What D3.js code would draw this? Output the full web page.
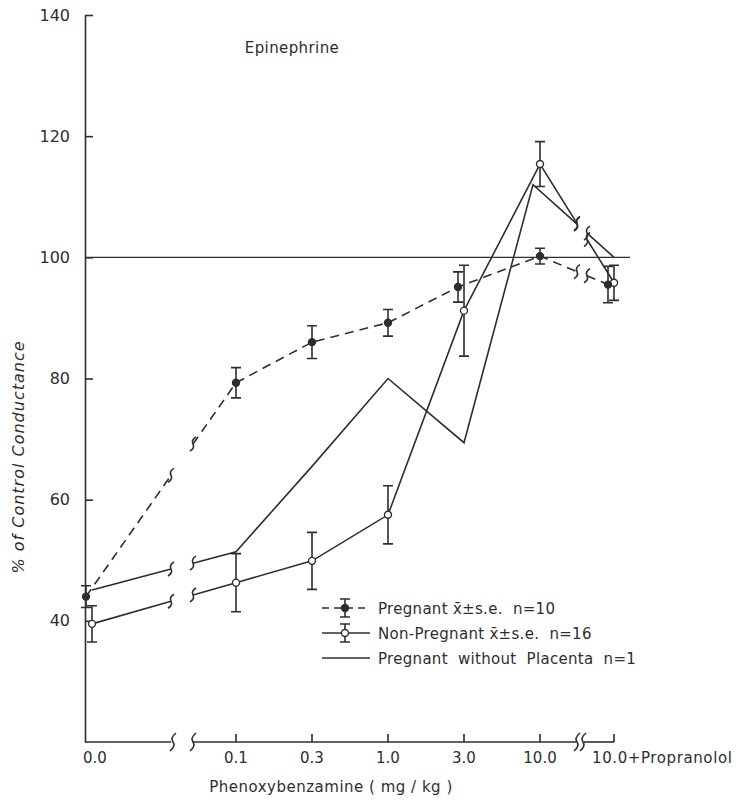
<!DOCTYPE html>
<html>
<head>
<meta charset="utf-8">
<script src="https://cdn.jsdelivr.net/npm/d3@7"></script>
<style>
body { margin: 0; background: #fff; }
text { font-family: "DejaVu Sans", sans-serif; fill: #2e2e2e; }
</style>
</head>
<body>
<svg id="chart" width="755" height="800"></svg>
<script>
// dose groups on the x axis
var doses = ["0.0", "0.1", "0.3", "1.0", "3.0", "10.0", "10.0+Propranolol"];
var yTicks = [40, 60, 80, 100, 120, 140];

// Pregnant mean ± s.e. (n=10)
var pregMean = [44, 79.3, 86, 89.2, 95.1, 100.2, 95.5];
var pregSe   = [1.8, 2.5, 2.7, 2.2, 2.5, 1.3, 3.0];
// Non-pregnant mean ± s.e. (n=16)
var nonMean = [39.5, 46.3, 49.9, 57.5, 91.2, 115.4, 95.8];
var nonSe   = [3.0, 4.8, 4.7, 4.8, 7.5, 3.7, 2.9];
// Pregnant without placenta (n=1)
var placenta = [45.1, 51.4, 65.5, 80, 69.4, 112, 100];

var legendLabels = ["Pregnant x\u0304\u00b1s.e.  n=10", "Non-Pregnant x\u0304\u00b1s.e.  n=16", "Pregnant  without  Placenta  n=1"];

var ink = "#2e2e2e";
var svg = d3.select("#chart");

var y = d3.scaleLinear().domain([20, 140]).range([742, 15]);
// broken axis: a long gap after 0.0, then even spacing, then a short gap before propranolol
var x = d3.scaleLinear().domain([0, 1, 5, 6]).range([85, 236, 540, 614]);

// small sideways nudges so overlapping points stay visible
var dodge = {
  preg: [1, 0, 0, 0, -6, 0, -6],
  non:  [7, 0, 0, 0, 0, 0, 0],
  plac: [7, 0, 0, 0, 0, -7, 0]
};
var gapA = [171, 193], gapB = [577, 587];

var squiggle = "M3,-7 Q-2,-4 0,0 Q2,4 -3,7";

function pointAt(p, q, px) {
  var t = (px - p[0]) / (q[0] - p[0]);
  return [px, p[1] + t * (q[1] - p[1])];
}

var line = d3.line();

function drawSeries(values, off, dash) {
  var pts = values.map(function(v, i) { return [x(i) + off[i], y(v)]; });
  var a1 = pointAt(pts[0], pts[1], gapA[0]), a2 = pointAt(pts[0], pts[1], gapA[1]);
  var b1 = pointAt(pts[5], pts[6], gapB[0]), b2 = pointAt(pts[5], pts[6], gapB[1]);
  var segs = [[pts[0], a1], [a2].concat(pts.slice(1, 6)).concat([b1]), [b2, pts[6]]];
  var g = svg.append("g");
  g.selectAll("path.seg").data(segs).enter().append("path")
    .attr("class", "seg")
    .attr("d", line)
    .attr("fill", "none")
    .attr("stroke", ink)
    .attr("stroke-width", 1.6)
    .attr("stroke-dasharray", dash ? "9,6" : null);
  g.selectAll("path.sq").data([a1, a2, b1, b2]).enter().append("path")
    .attr("class", "sq")
    .attr("d", squiggle)
    .attr("transform", function(d) { return "translate(" + d[0] + "," + d[1] + ")"; })
    .attr("fill", "none")
    .attr("stroke", ink)
    .attr("stroke-width", 1.6);
  return pts;
}

function drawErrors(pts, means, ses, filled) {
  var g = svg.append("g");
  pts.forEach(function(p, i) {
    var top = y(means[i] + ses[i]), bot = y(means[i] - ses[i]);
    g.append("path")
      .attr("d", "M" + p[0] + "," + top + "V" + bot +
                 "M" + (p[0] - 5) + "," + top + "H" + (p[0] + 5) +
                 "M" + (p[0] - 5) + "," + bot + "H" + (p[0] + 5))
      .attr("stroke", ink).attr("stroke-width", 1.6).attr("fill", "none");
  });
  g.selectAll("circle").data(pts).enter().append("circle")
    .attr("cx", function(d) { return d[0]; })
    .attr("cy", function(d) { return d[1]; })
    .attr("r", 3.5)
    .attr("fill", filled ? ink : "#fff")
    .attr("stroke", ink)
    .attr("stroke-width", 1.4);
}

// y axis, ticks pointing into the plot
var yAxis = svg.append("g")
  .attr("transform", "translate(" + x(0) + ",0)")
  .call(d3.axisLeft(y).tickValues(yTicks).tickSizeInner(-8).tickSizeOuter(0).tickPadding(15).tickFormat(d3.format("d")));
yAxis.select(".domain").attr("stroke", ink).attr("stroke-width", 1.6);
yAxis.selectAll(".tick line").attr("stroke", ink).attr("stroke-width", 1.6);
yAxis.selectAll(".tick text").style("font-size", "16px").attr("fill", ink);

// x axis drawn by hand because of the breaks
var axisY = y(20);
var xAxis = svg.append("g");
var axisSegs = [[x(0), gapA[0]], [gapA[1], gapB[0] - 1], [gapB[1] - 3, x(6)]];
xAxis.selectAll("path.ax").data(axisSegs).enter().append("path")
  .attr("d", function(d) { return "M" + d[0] + "," + axisY + "H" + d[1]; })
  .attr("stroke", ink).attr("stroke-width", 1.6);
xAxis.selectAll("path.axsq").data([gapA[0] + 2, gapA[1], gapB[0], gapB[0] + 6]).enter().append("path")
  .attr("d", "M3,-9 Q-3,-4 0,0 Q3,4 -3,9")
  .attr("transform", function(d) { return "translate(" + d + "," + axisY + ")"; })
  .attr("fill", "none").attr("stroke", ink).attr("stroke-width", 1.6);
xAxis.selectAll("line.tk").data(d3.range(1, doses.length)).enter().append("line")
  .attr("x1", function(i) { return x(i); }).attr("x2", function(i) { return x(i); })
  .attr("y1", axisY).attr("y2", axisY - 8)
  .attr("stroke", ink).attr("stroke-width", 1.6);
xAxis.selectAll("text").data(doses).enter().append("text")
  .attr("x", function(d, i) { return i === 0 ? x(i) + 10 : (i === 6 ? x(i) - 22 : x(i)); })
  .attr("y", axisY + 21)
  .attr("text-anchor", function(d, i) { return i === 6 ? "start" : "middle"; })
  .style("font-size", "15px")
  .style("letter-spacing", function(d, i) { return i === 6 ? "0.6px" : null; })
  .text(function(d) { return d; });

svg.append("text")
  .attr("x", 331).attr("y", 792)
  .attr("text-anchor", "middle")
  .style("font-size", "15px")
  .style("letter-spacing", "0.5px")
  .text("Phenoxybenzamine ( mg / kg )");

svg.append("text")
  .attr("transform", "translate(24,457) rotate(-90)")
  .attr("text-anchor", "middle")
  .style("font-size", "16px")
  .style("font-style", "italic")
  .style("letter-spacing", "1px")
  .text("% of Control Conductance");

svg.append("text")
  .attr("x", 292).attr("y", 53)
  .attr("text-anchor", "middle")
  .style("font-size", "15px")
  .style("letter-spacing", "0.4px")
  .text("Epinephrine");

// 100 % reference line
svg.append("path")
  .attr("d", "M" + x(0) + "," + y(100) + "H" + (x(6) + 16))
  .attr("stroke", ink).attr("stroke-width", 1.4);

// series
drawSeries(placenta, dodge.plac, false);
var nonPts = drawSeries(nonMean, dodge.non, false);
var pregPts = drawSeries(pregMean, dodge.preg, true);
drawErrors(nonPts, nonMean, nonSe, false);
drawErrors(pregPts, pregMean, pregSe, true);

// legend
var lg = svg.append("g").attr("transform", "translate(322,608)");
lg.selectAll("path.l").data([0, 1, 2]).enter().append("path")
  .attr("d", function(i) { return "M0," + (i * 25) + "H48"; })
  .attr("stroke", ink).attr("stroke-width", 1.6)
  .attr("stroke-dasharray", function(i) { return i === 0 ? "7,5" : null; });
[0, 1].forEach(function(i) {
  var cy = i * 25, cx = 23;
  lg.append("path")
    .attr("d", "M" + cx + "," + (cy - 9) + "V" + (cy + 9) +
               "M" + (cx - 5) + "," + (cy - 9) + "H" + (cx + 5) +
               "M" + (cx - 5) + "," + (cy + 9) + "H" + (cx + 5))
    .attr("stroke", ink).attr("stroke-width", 1.6);
  lg.append("circle").attr("cx", cx).attr("cy", cy).attr("r", 3.5)
    .attr("fill", i === 0 ? ink : "#fff").attr("stroke", ink).attr("stroke-width", 1.4);
});
lg.selectAll("text").data(legendLabels).enter().append("text")
  .attr("x", 56)
  .attr("y", function(d, i) { return i * 25 + 6; })
  .style("font-size", "15px")
  .style("letter-spacing", "0.3px")
  .style("white-space", "pre")
  .text(function(d) { return d; });
</script>
</body>
</html>
